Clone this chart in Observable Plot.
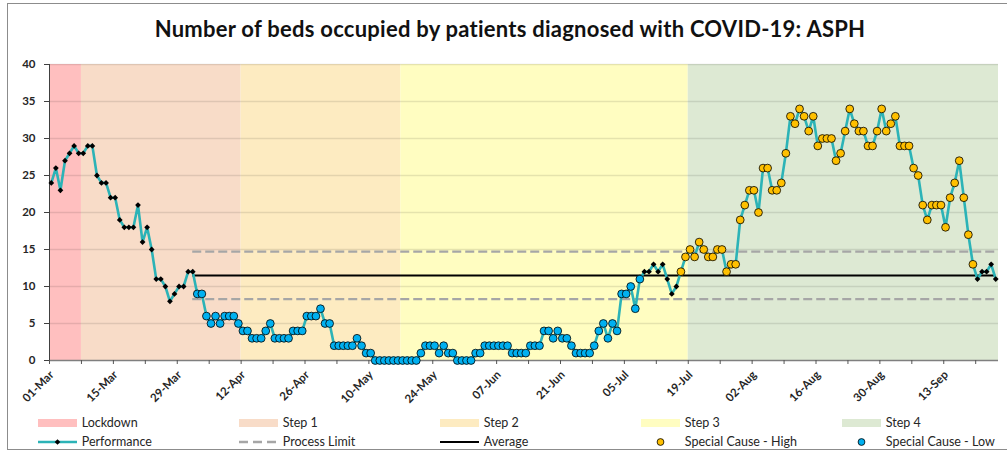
<!DOCTYPE html>
<html>
<head>
<meta charset="utf-8">
<script src="https://cdn.jsdelivr.net/npm/d3@7"></script>
<script src="https://cdn.jsdelivr.net/npm/@observablehq/plot@0.6"></script>
<style>
html, body { margin: 0; padding: 0; background: #fff; }
body { width: 1007px; height: 451px; overflow: hidden; position: relative; font-family: Lato, "Open Sans", sans-serif; color: #262626; }
#frame { position: absolute; left: 7px; top: 3px; width: 1100px; height: 447px; border: 1px solid #8c8c8c; box-sizing: border-box; pointer-events: none; }
#title { position: relative; height: 50px; width: 1020px; box-sizing: border-box; padding-top: 17.5px; font-size: 22px; line-height: 22px; letter-spacing: 0.25px; font-weight: bold; text-align: center; color: #111; white-space: nowrap; }
#chart { position: relative; height: 362px; }
#legend { position: absolute; left: 0; top: 412px; width: 1007px; height: 39px; }
.lg-item { position: absolute; font-size: 12.5px; line-height: 13px; white-space: nowrap; color: #262626; }
.lg-sw { position: absolute; }
</style>
</head>
<body>
<div id="frame"></div>
<div id="title">Number of beds occupied by patients diagnosed with COVID-19: ASPH</div>
<div id="chart"></div>
<div id="legend"></div>
<script>
// ---------- data ----------
const startDate = "2021-03-01";
const values = [
  24,26,23,27,28,29,28,28,29,29,
  25,24,24,22,22,19,18,18,18,21,
  16,18,15,11,11,10,8,9,10,10,
  12,12,9,9,6,5,6,5,6,6,
  6,5,4,4,3,3,3,4,5,3,
  3,3,3,4,4,4,6,6,6,7,
  5,5,2,2,2,2,2,3,2,1,
  1,0,0,0,0,0,0,0,0,0,
  0,1,2,2,2,1,2,1,1,0,
  0,0,0,1,1,2,2,2,2,2,
  2,1,1,1,1,2,2,2,4,4,
  3,4,3,3,2,1,1,1,1,2,
  4,5,3,5,4,9,9,10,7,11,
  12,12,13,12,13,11,9,10,12,14,
  15,14,16,15,14,14,15,15,12,13,
  13,19,21,23,23,20,26,26,23,23,
  24,28,33,32,34,33,31,33,29,30,
  30,30,27,28,31,34,32,31,31,29,
  29,31,34,31,32,33,29,29,29,26,
  25,21,19,21,21,21,18,22,24,27,
  22,17,13,11,12,12,13,11
];
const bandNames = ["Lockdown", "Step 1", "Step 2", "Step 3", "Step 4"];
const bandStarts = ["2021-03-01", "2021-03-08", "2021-04-12", "2021-05-17", "2021-07-19"];
const axisEnd = "2021-09-25";
const bandColors = ["#FFBFBF", "#F8DCC8", "#FDEBC1", "#FFFDC1", "#DDE9D3"];
const lowSignal = ["2021-04-02", "2021-07-08"];
const highSignal = ["2021-07-17", "2021-09-19"];
const limitSpan = ["2021-04-01", "2021-09-24"];
const meanValue = 11.5;
const upperLimit = 14.7;
const lowerLimit = 8.3;
const yTicks = [0, 5, 10, 15, 20, 25, 30, 35, 40];
const xLabelDates = ["2021-03-01","2021-03-15","2021-03-29","2021-04-12","2021-04-26","2021-05-10","2021-05-24","2021-06-07","2021-06-21","2021-07-05","2021-07-19","2021-08-02","2021-08-16","2021-08-30","2021-09-13"];
const legendRow1 = ["Lockdown", "Step 1", "Step 2", "Step 3", "Step 4"];
const legendRow2 = ["Performance", "Process Limit", "Average", "Special Cause - High", "Special Cause - Low"];

// ---------- colours / styles ----------
const lineColor = "#2CB3B7";
const lowColor = "#00B0F0";
const highColor = "#FFC000";
const limitColor = "#A6A6A6";

const parse = s => new Date(s + "T00:00:00Z");
const t0 = parse(startDate);
const tEnd = parse(axisEnd);
const rows = values.map((v, i) => ({date: d3.utcDay.offset(t0, i), value: v}));
const inRange = (d, r) => d >= parse(r[0]) && d <= parse(r[1]);
const lowRows = rows.filter(r => inRange(r.date, lowSignal));
const highRows = rows.filter(r => inRange(r.date, highSignal));
const normalRows = rows.filter(r => !inRange(r.date, lowSignal) && !inRange(r.date, highSignal));
const bands = bandNames.map((n, i) => ({name: n, start: parse(bandStarts[i]), end: i + 1 < bandStarts.length ? parse(bandStarts[i + 1]) : tEnd}));
const lim0 = parse(limitSpan[0]), lim1 = parse(limitSpan[1]);
const weekTicks = d3.utcDay.range(t0, d3.utcDay.offset(tEnd, 1), 7);
const labelDates = xLabelDates.map(parse);
const fmt = d3.utcFormat("%d-%b");
const off = 1.8;

const plot = Plot.plot({
  width: 1007,
  height: 362,
  marginLeft: 49,
  marginRight: 9,
  marginTop: 14,
  marginBottom: 52,
  style: {background: "transparent", fontFamily: "Lato, 'Open Sans', sans-serif", fontSize: "11.5px", fontWeight: "bold", color: "#262626"},
  x: {type: "utc", domain: [t0, tEnd], axis: null},
  y: {domain: [0, 40], axis: null},
  color: {domain: bandNames, range: bandColors},
  marks: [
    Plot.rect(bands, {x1: "start", x2: "end", y1: 0, y2: 40, fill: "name"}),
    Plot.ruleY(yTicks.slice(1), {stroke: "#000", strokeOpacity: 0.1, strokeWidth: 1.3}),
    Plot.ruleY([0], {stroke: "#7f7f7f", strokeWidth: 1.5}),
    Plot.ruleX([t0], {y1: 0, y2: 40, stroke: "#404040", strokeWidth: 1}),
    Plot.axisY(yTicks, {label: null, tickSize: 5, tickPadding: 9, stroke: "#404040", fill: "#262626", fontWeight: "bold", fontSize: 11.5}),
    Plot.axisX(weekTicks, {label: null, tickSize: 4, tickFormat: () => "", stroke: "#555"}),
    Plot.text(labelDates, {x: d => d, frameAnchor: "bottom", text: d => fmt(d), rotate: -45, textAnchor: "end", dx: 5, dy: 15, fontWeight: "bold", fontSize: 11.5, fill: "#262626"}),
    Plot.ruleY([upperLimit, lowerLimit], {x1: () => lim0, x2: () => lim1, dx: off, stroke: limitColor, strokeWidth: 2.2, strokeDasharray: "9,4"}),
    Plot.ruleY([meanValue], {x1: () => lim0, x2: () => lim1, dx: off, stroke: "#000", strokeWidth: 2}),
    Plot.line(rows, {x: "date", y: "value", dx: off, stroke: lineColor, strokeWidth: 2.6}),
    Plot.dot(normalRows, {x: "date", y: "value", dx: off, symbol: "diamond2", r: 2.6, fill: "#000"}),
    Plot.dot(lowRows, {x: "date", y: "value", dx: off, r: 3.9, fill: lowColor, stroke: "#000", strokeWidth: 0.8}),
    Plot.dot(highRows, {x: "date", y: "value", dx: off, r: 3.9, fill: highColor, stroke: "#000", strokeWidth: 0.8})
  ]
});
document.getElementById("chart").appendChild(plot);

// ---------- legend ----------
const legend = document.getElementById("legend");
const colX = [38.3, 239.3, 440.3, 641.3, 842.3];
const svgNS = "http://www.w3.org/2000/svg";
function sw(left, top, h, build) {
  const s = document.createElementNS(svgNS, "svg");
  s.setAttribute("width", 39); s.setAttribute("height", h);
  s.setAttribute("class", "lg-sw");
  s.style.left = left + "px"; s.style.top = top + "px";
  s.innerHTML = build;
  legend.appendChild(s);
}
function label(left, top, text) {
  const d = document.createElement("div");
  d.className = "lg-item";
  d.style.left = left + "px"; d.style.top = top + "px";
  d.textContent = text;
  legend.appendChild(d);
}
legendRow1.forEach((n, i) => {
  sw(colX[i], 7, 8, `<rect x="0" y="0" width="39" height="8" fill="${bandColors[i]}"/>`);
  label(colX[i] + 43.5, 4.3, n);
});
const row2Sw = [
  `<line x1="0" x2="39" y1="6" y2="6" stroke="${lineColor}" stroke-width="2.5"/><path d="M19.5,3.2L22.3,6L19.5,8.8L16.7,6Z" fill="#000"/>`,
  `<line x1="0" x2="39" y1="6" y2="6" stroke="${limitColor}" stroke-width="2.5" stroke-dasharray="9,5"/>`,
  `<line x1="0" x2="39" y1="6" y2="6" stroke="#000" stroke-width="2"/>`,
  `<circle cx="19.5" cy="6" r="3.4" fill="${highColor}" stroke="#000" stroke-width="0.8"/>`,
  `<circle cx="19.5" cy="6" r="3.4" fill="${lowColor}" stroke="#000" stroke-width="0.8"/>`
];
legendRow2.forEach((n, i) => {
  sw(colX[i], 23.7, 12, row2Sw[i]);
  label(colX[i] + 43.5, 22.8, n);
});
</script>
</body>
</html>
